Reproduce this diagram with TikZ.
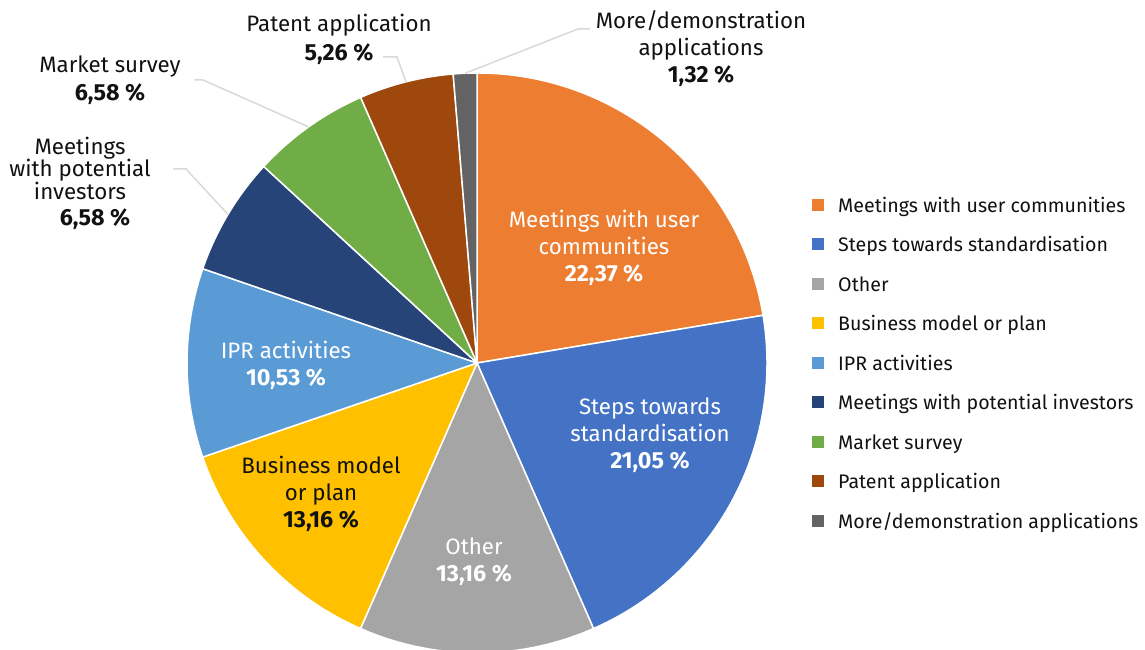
\documentclass[tikz,border=0pt]{standalone}
\usepackage{fontspec}
\setmainfont{Fira Sans}
\usetikzlibrary{calc}
\definecolor{cUser}{HTML}{ED7D31}
\definecolor{cSteps}{HTML}{4472C4}
\definecolor{cOther}{HTML}{A5A5A5}
\definecolor{cBus}{HTML}{FFC000}
\definecolor{cIPR}{HTML}{5B9BD5}
\definecolor{cInv}{HTML}{264478}
\definecolor{cMar}{HTML}{70AD47}
\definecolor{cPat}{HTML}{9E480E}
\definecolor{cMore}{HTML}{636363}
\definecolor{leadgray}{HTML}{D9D9D9}
\definecolor{txtblack}{HTML}{111111}
\newcommand{\pct}[1]{{\fontsize{23.3}{27}\selectfont\bfseries #1}}
\tikzset{
  slice/.style={line width=1.5pt, draw=white, line join=round},
  lbl/.style={font=\fontsize{22.3}{27}\selectfont, align=center, inner sep=0pt},
  inlbl/.style={lbl, text=white},
  outlbl/.style={lbl, text=txtblack},
  leader/.style={draw=leadgray, line width=1.5pt},
  legsq/.style={fill=#1, minimum size=12pt, inner sep=0pt},
  legtxt/.style={font=\fontsize{19.6}{24}\selectfont, anchor=base west, inner sep=0pt, text=txtblack}
}
\begin{document}
\begin{tikzpicture}[x=1pt,y=1pt]
\useasboundingbox (0,0) rectangle (1145,650);
\coordinate (c) at (477,287);
% slices
\foreach \a/\b/\col in {90/9.468/cUser, 9.468/-66.312/cSteps, -66.312/-113.688/cOther,
  -113.688/-161.064/cBus, -161.064/-198.972/cIPR, -198.972/-222.66/cInv,
  -222.66/-246.348/cMar, -246.348/-265.284/cPat, -265.284/-270/cMore}
  \filldraw[slice, fill=\col] (c) -- ([shift={(c)}]\a:290pt) arc[start angle=\a, end angle=\b, radius=290pt] -- cycle;
% inside labels
\node[inlbl] (userL) at (604,402) {Meetings with user\\communities\\\pct{22,37 \%}};
\node[inlbl] (stepsL) at (650,215) {Steps towards\\standardisation\\\pct{21,05 \%}};
\node[inlbl] (otherL) at (474,88) {Other\\\pct{13,16 \%}};
\node[outlbl] (busL) at (321,156) {Business model\\or plan\\\pct{13,16 \%}};
\node[inlbl] (iprL) at (286,285) {IPR activities\\\pct{10,53 \%}};
% outside labels
\node[outlbl, font=\fontsize{22.3}{22.5}\selectfont] (invL) at (80,482) {Meetings\\with potential\\investors};
\node[outlbl] (invP) at (95,431) {\pct{6,58 \%}};
\node[outlbl, font=\fontsize{22.3}{28}\selectfont] (marL) at (110,570) {Market survey\\\pct{6,58 \%}};
\node[outlbl, font=\fontsize{22.3}{29}\selectfont] (patL) at (339,611) {Patent application\\\pct{5,26 \%}};
\node[outlbl] (moreL) at (701,601) {More/demonstration\\applications\\\pct{1,32 \%}};
% leader lines
\coordinate (invA) at (173,481); \coordinate (invB) at (186,481);
\coordinate (invE) at ([shift={(c)}]149.18:290pt);
\coordinate (marA) at (194,570); \coordinate (marB) at (203,570);
\coordinate (marE) at ([shift={(c)}]125.5:290pt);
\coordinate (patA) at (383,593); \coordinate (patB) at (397,593);
\coordinate (patE) at ([shift={(c)}]104.18:290pt);
\coordinate (moreA) at (590,621); \coordinate (moreB) at (578,621);
\coordinate (moreE) at ([shift={(c)}]92.34:290pt);
\draw[leader] (invA) -- (invB) -- (invE);
\draw[leader] (marA) -- (marB) -- (marE);
\draw[leader] (patA) -- (patB) -- (patE);
\draw[leader] (moreA) -- (moreB) -- (moreE);
% legend
\foreach \i/\col/\txt in {0/cUser/{Meetings with user communities}, 1/cSteps/{Steps towards standardisation},
  2/cOther/{Other}, 3/cBus/{Business model or plan}, 4/cIPR/{IPR activities},
  5/cInv/{Meetings with potential investors}, 6/cMar/{Market survey}, 7/cPat/{Patent application},
  8/cMore/{More/demonstration applications}} {
  \node[legsq=\col] (sq\i) at (818,{445-39.5*\i}) {};
  \node[legtxt] (lt\i) at (838,{437.5-39.5*\i}) {\txt};
}
\end{tikzpicture}
\end{document}
